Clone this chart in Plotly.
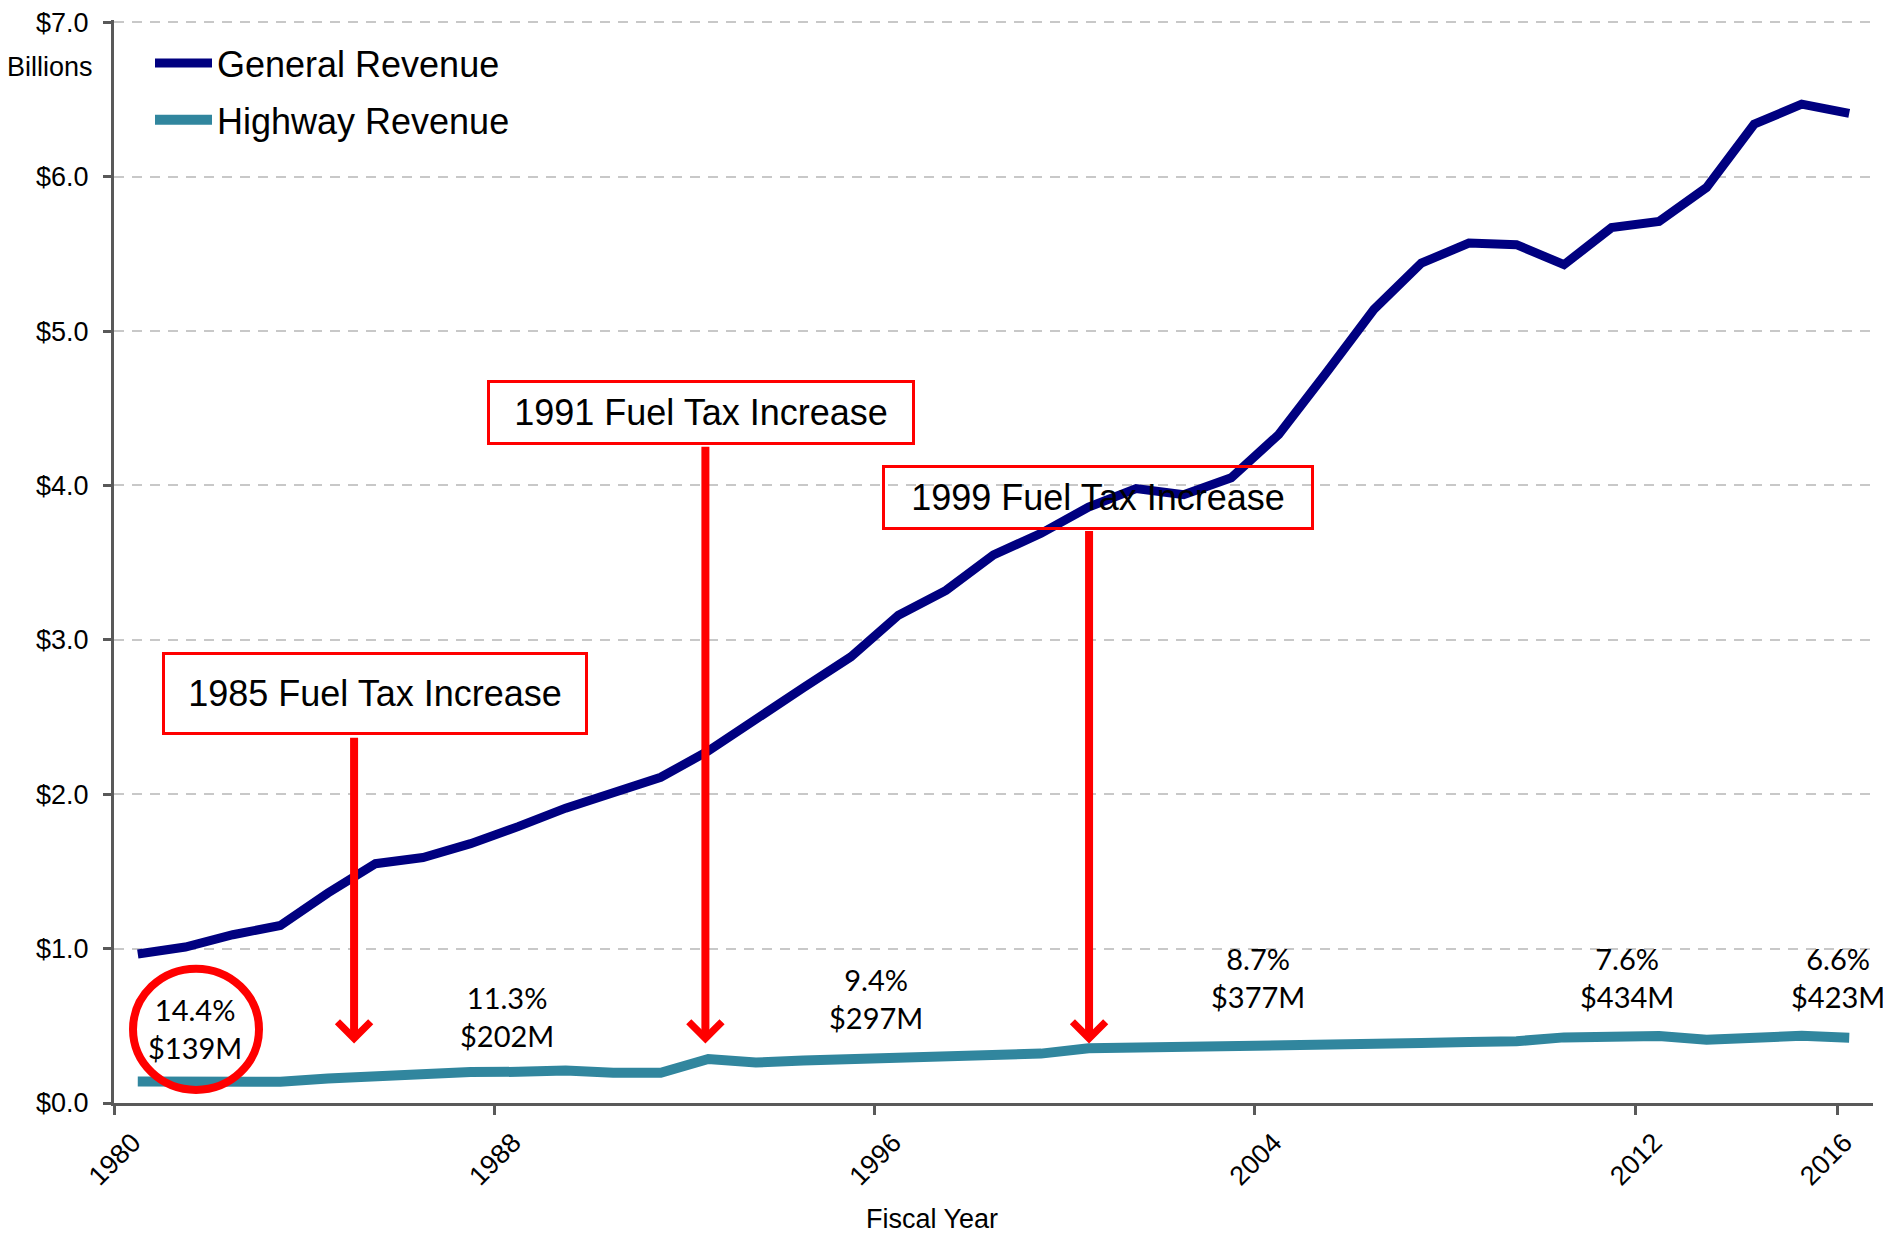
import plotly.graph_objects as go

years = list(range(1980, 2017))
general_revenue = [0.965, 1.01, 1.09, 1.15, 1.36, 1.55, 1.59, 1.68, 1.79, 1.91,
                   2.01, 2.11, 2.28, 2.49, 2.69, 2.89, 3.16, 3.32, 3.55, 3.69,
                   3.86, 3.98, 3.94, 4.05, 4.33, 4.73, 5.14, 5.44, 5.57, 5.56,
                   5.43, 5.67, 5.71, 5.93, 6.34, 6.47, 6.41]
highway_revenue = [0.139, 0.139, 0.137, 0.138, 0.158, 0.172, 0.195, 0.200, 0.202, 0.210,
                   0.196, 0.196, 0.285, 0.262, 0.275, 0.285, 0.297, 0.300, 0.305, 0.320,
                   0.355, 0.358, 0.360, 0.365, 0.377, 0.380, 0.383, 0.388, 0.395, 0.400,
                   0.425, 0.433, 0.434, 0.410, 0.423, 0.435, 0.423]

tick_years = [1980, 1988, 1996, 2004, 2012, 2016]
tick_text = [str(y) for y in tick_years]
y_ticks = [0, 1, 2, 3, 4, 5, 6, 7]
y_tick_text = ["$%.1f" % v for v in y_ticks]

share_pct = ["14.4%", "11.3%", "9.4%", "8.7%", "7.6%", "6.6%"]
share_amt = ["$139M", "$202M", "$297M", "$377M", "$434M", "$423M"]

increase_labels = ["1985 Fuel Tax Increase", "1991 Fuel Tax Increase", "1999 Fuel Tax Increase"]

AX = "#595959"
RED = "#FF0000"
ARIAL = "Liberation Sans, Arial, sans-serif"

# page has an 8px body margin; figure sized to fit the window
OFF = 8
W, H = 1891 - OFF, 1237 - OFF
L, R, T, B = 114 - OFF, 18, 20 - OFF, 134
PW, PH = W - L - R, H - T - B

def px_to_paper(px, py):
    """page pixel -> paper coords"""
    fx, fy = px - OFF, py - OFF
    return (fx - L) / PW, (H - B - fy) / PH

fig = go.Figure()
fig.add_trace(go.Scatter(x=years, y=general_revenue, mode="lines", name="General Revenue",
                         line=dict(color="#000080", width=9), legendgroup="g"))
fig.add_trace(go.Scatter(x=years, y=highway_revenue, mode="lines", name="Highway Revenue",
                         line=dict(color="#31869E", width=10), legendgroup="h"))

label_pos = [(1981.2, 0.48), (1987.76, 0.56), (1995.52, 0.675), (2003.56, 0.81), (2011.32, 0.81), (2015.76, 0.81)]
for (lx, ly), p, a in zip(label_pos, share_pct, share_amt):
    fig.add_annotation(x=lx, y=ly, xref="x", yref="y", text=f"{p}<br>{a}", showarrow=False,
                       xanchor="center", yanchor="middle",
                       font=dict(family="Lato, Open Sans, sans-serif", size=29, color="black"),
                       align="center")

fig.add_shape(type="circle", xref="x", yref="y", x0=1979.9, x1=1982.55, y0=0.085, y1=0.87,
              line=dict(color=RED, width=8), layer="above")

boxes = [(1984.98, 2.65, 420, 77, True), (1991.85, 4.47, 422, 59, True), (2000.19, 3.92, 426, 59, False)]
arrows = [(1984.55, 2.375), (1991.94, 4.26), (2000.01, 3.715)]
for (bx, by, w, h, fill), (axx, ayy), txt in zip(boxes, arrows, increase_labels):
    fig.add_annotation(x=axx, y=0.385, ax=axx, ay=ayy, xref="x", yref="y", axref="x", ayref="y",
                       text="", showarrow=True, arrowhead=4, arrowsize=0.8, arrowwidth=8,
                       arrowcolor=RED, standoff=0)
    fig.add_annotation(x=bx, y=by, xref="x", yref="y", text=txt, showarrow=False,
                       xanchor="center", yanchor="middle",
                       font=dict(family=ARIAL, size=36, color="black"),
                       bordercolor=RED, borderwidth=3, borderpad=0, width=w, height=h,
                       bgcolor="white" if fill else "rgba(0,0,0,0)")

bx_, by_ = px_to_paper(50, 67)
fig.add_annotation(x=bx_, y=by_, xref="paper", yref="paper", text="Billions", showarrow=False,
                   xanchor="center", yanchor="middle",
                   font=dict(family=ARIAL, size=27, color="black"))
fx_, fy_ = px_to_paper(932, 1219)
fig.add_annotation(x=fx_, y=fy_, xref="paper", yref="paper", text="Fiscal Year", showarrow=False,
                   xanchor="center", yanchor="middle",
                   font=dict(family=ARIAL, size=27, color="black"))

lx_, ly_ = px_to_paper(150, 33)
fig.update_layout(
    template="none",
    width=W, height=H,
    margin=dict(l=L, r=R, t=T, b=B, pad=0, autoexpand=False),
    paper_bgcolor="white", plot_bgcolor="white",
    font=dict(family=ARIAL, color="black"),
    showlegend=True,
    legend=dict(x=lx_, y=ly_, xanchor="left", yanchor="top", bgcolor="rgba(0,0,0,0)",
                borderwidth=0, font=dict(family=ARIAL, size=36, color="black"), itemwidth=57,
                tracegroupgap=7),
    xaxis=dict(range=[1979.5, 2016.5], tickmode="array", tickvals=tick_years, ticktext=tick_text,
               tickangle=-45, ticks="", showgrid=False, zeroline=False, automargin=False,
               showline=True, linecolor=AX, linewidth=3,
               ticklabelshift=-5, ticklabelstandoff=10, ticklabeloverflow="allow",
               tickfont=dict(family=ARIAL, size=27, color="black"),
               minor=dict(tickmode="array", tickvals=[1979.5, 1987.5, 1995.5, 2003.5, 2011.5, 2015.75],
                          ticks="outside", ticklen=9, tickwidth=3, tickcolor=AX, showgrid=False)),
    yaxis=dict(range=[0, 7.015], tickmode="array", tickvals=y_ticks, ticktext=y_tick_text,
               ticks="outside", ticklen=8, tickwidth=3, tickcolor=AX, automargin=False,
               showline=True, linecolor=AX, linewidth=3, zeroline=False,
               showgrid=True, gridcolor="#C8C8C8", gridwidth=2, griddash="10px,8px",
               ticklabelstandoff=9, ticklabeloverflow="allow",
               tickfont=dict(family=ARIAL, size=27, color="black")),
)

fig.write_html("out.html")
